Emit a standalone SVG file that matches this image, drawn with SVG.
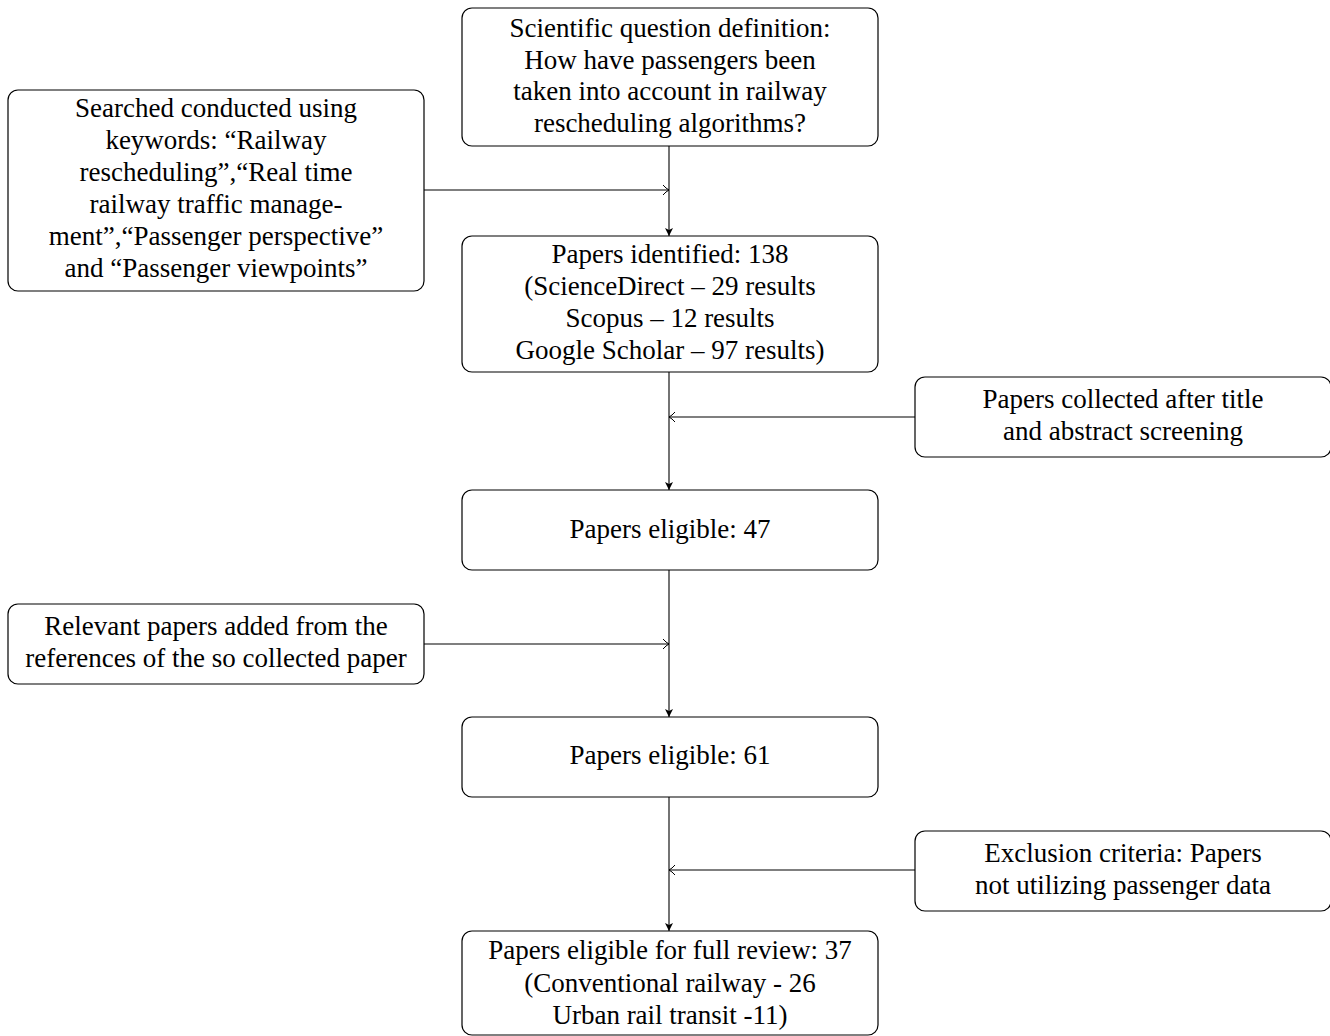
<svg xmlns="http://www.w3.org/2000/svg" width="1330" height="1036" viewBox="0 0 1330 1036">
<style>
.box{fill:#fff;stroke:#000;stroke-width:1.2}
text{font-family:"Liberation Serif","Times New Roman",serif;font-size:27px;fill:#000;text-anchor:middle}
.c{fill:none;stroke:#000;stroke-width:1.1}
</style>
<defs>
<marker id="fill" markerWidth="10" markerHeight="10" refX="8" refY="4" orient="auto" markerUnits="userSpaceOnUse">
<path d="M0,0 L8,4 L0,8 L2,4 Z" fill="#000"/>
</marker>
<marker id="open" markerWidth="10" markerHeight="12" refX="6" refY="5" orient="auto" markerUnits="userSpaceOnUse">
<path d="M0,0 Q3,3.5 6,5 Q3,6.5 0,10" fill="none" stroke="#000" stroke-width="1"/>
</marker>
</defs>
<rect width="1330" height="1036" fill="#fff"/>
<g id="connectors">
<path class="c" d="M669,146 V236" marker-end="url(#fill)"/>
<path class="c" d="M424,190 H669" marker-end="url(#open)"/>
<path class="c" d="M669,372 V490" marker-end="url(#fill)"/>
<path class="c" d="M915,417 H669" marker-end="url(#open)"/>
<path class="c" d="M669,570 V717" marker-end="url(#fill)"/>
<path class="c" d="M424,644 H669" marker-end="url(#open)"/>
<path class="c" d="M669,797 V931" marker-end="url(#fill)"/>
<path class="c" d="M915,870 H669" marker-end="url(#open)"/>
</g>
<g id="question">
<rect class="box" x="462" y="8" width="416" height="138" rx="10"/>
<text x="670" y="37">Scientific question definition:</text>
<text x="670" y="69">How have passengers been</text>
<text x="670" y="100">taken into account in railway</text>
<text x="670" y="132">rescheduling algorithms?</text>
</g>
<g id="search">
<rect class="box" x="8" y="90" width="416" height="201" rx="10"/>
<text x="216" y="117">Searched conducted using</text>
<text x="216" y="149">keywords: “Railway</text>
<text x="216" y="181">rescheduling”,“Real time</text>
<text x="216" y="213">railway traffic manage-</text>
<text x="216" y="245">ment”,“Passenger perspective”</text>
<text x="216" y="277">and “Passenger viewpoints”</text>
</g>
<g id="identified">
<rect class="box" x="462" y="236" width="416" height="136" rx="10"/>
<text x="670" y="263">Papers identified: 138</text>
<text x="670" y="295">(ScienceDirect – 29 results</text>
<text x="670" y="327">Scopus – 12 results</text>
<text x="670" y="359">Google Scholar – 97 results)</text>
</g>
<g id="screening">
<rect class="box" x="915" y="377" width="416" height="80" rx="10"/>
<text x="1123" y="408">Papers collected after title</text>
<text x="1123" y="440">and abstract screening</text>
</g>
<g id="eligible47">
<rect class="box" x="462" y="490" width="416" height="80" rx="10"/>
<text x="670" y="538">Papers eligible: 47</text>
</g>
<g id="relevant">
<rect class="box" x="8" y="604" width="416" height="80" rx="10"/>
<text x="216" y="635">Relevant papers added from the</text>
<text x="216" y="667">references of the so collected paper</text>
</g>
<g id="eligible61">
<rect class="box" x="462" y="717" width="416" height="80" rx="10"/>
<text x="670" y="764">Papers eligible: 61</text>
</g>
<g id="exclusion">
<rect class="box" x="915" y="831" width="416" height="80" rx="10"/>
<text x="1123" y="862">Exclusion criteria: Papers</text>
<text x="1123" y="894">not utilizing passenger data</text>
</g>
<g id="final">
<rect class="box" x="462" y="931" width="416" height="104" rx="10"/>
<text x="670" y="959">Papers eligible for full review: 37</text>
<text x="670" y="992">(Conventional railway - 26</text>
<text x="670" y="1024">Urban rail transit -11)</text>
</g>
</svg>
